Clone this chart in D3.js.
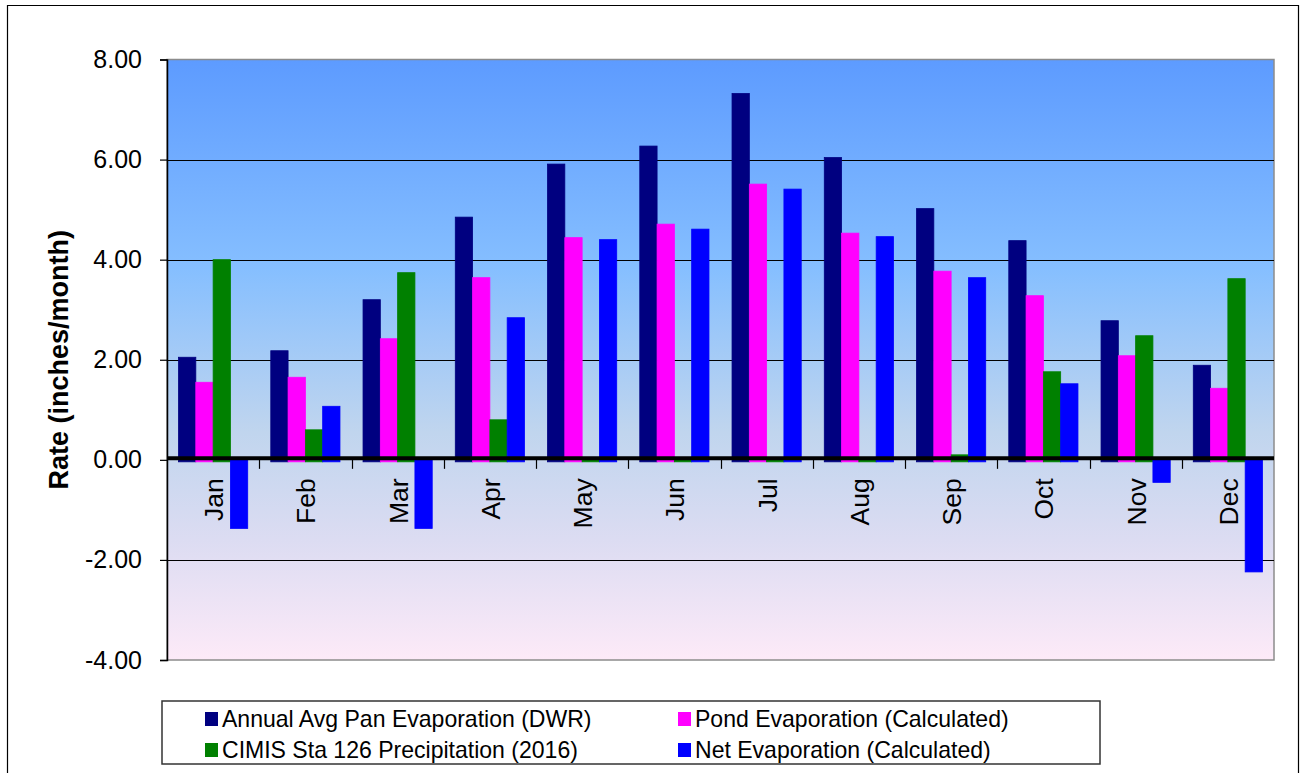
<!DOCTYPE html>
<html>
<head>
<meta charset="utf-8">
<script src="https://cdn.jsdelivr.net/npm/d3@7"></script>
<style>
  body { margin: 0; background: #fff; }
  svg { display: block; font-family: Arial, "Liberation Sans", sans-serif; }
</style>
</head>
<body>
<div id="chart"></div>
<script>
'use strict';

// Data
var months = ['Jan','Feb','Mar','Apr','May','Jun','Jul','Aug','Sep','Oct','Nov','Dec']
var panEvap  = [2.05, 2.18, 3.20, 4.85, 5.91, 6.27, 7.32, 6.04, 5.02, 4.38, 2.78, 1.89]
var pondEvap = [1.55, 1.65, 2.42, 3.64, 4.44, 4.71, 5.51, 4.53, 3.77, 3.28, 2.08, 1.43]
var precip   = [4.00, 0.60, 3.74, 0.80, 0.02, 0.01, 0.01, 0.01, 0.10, 1.76, 2.48, 3.62]
var netEvap  = [-1.33, 1.07, -1.33, 2.84, 4.40, 4.61, 5.41, 4.46, 3.64, 1.52, -0.41, -2.20]
var yTicks   = [-4, -2, 0, 2, 4, 6, 8]

var seriesNames = [
  'Annual Avg Pan Evaporation (DWR)',
  'Pond Evaporation (Calculated)',
  'CIMIS Sta 126 Precipitation (2016)',
  'Net Evaporation (Calculated)'
]
var seriesColors = ['#000080', '#ff00ff', '#008000', '#0000ff']
var seriesValues = [panEvap, pondEvap, precip, netEvap]

var W = 1302, H = 773
var plot = {left: 167, right: 1274, top: 59.5, bottom: 660}

var svg = d3.select('#chart').append('svg')
  .attr('width', W)
  .attr('height', H)

// outer frame (bottom edge runs off the picture)
svg.append('path')
  .attr('d', 'M7.5,' + (H + 2) + 'V5.5H1298.5V' + (H + 2))
  .attr('fill', 'none')
  .attr('stroke', '#000')
  .attr('stroke-width', 1.2)

var defs = svg.append('defs')
var grad = defs.append('linearGradient')
  .attr('id', 'bg')
  .attr('x1', 0).attr('y1', 0).attr('x2', 0).attr('y2', 1)
grad.append('stop').attr('offset', '0%').attr('stop-color', '#5d9bff')
grad.append('stop').attr('offset', '35%').attr('stop-color', '#86bfff')
grad.append('stop').attr('offset', '62%').attr('stop-color', '#c0d5ee')
grad.append('stop').attr('offset', '80%').attr('stop-color', '#dcdcf2')
grad.append('stop').attr('offset', '100%').attr('stop-color', '#fdeaf8')

var x = d3.scaleBand()
  .domain(months)
  .range([plot.left, plot.right])
  .paddingInner(0.25)
  .paddingOuter(0.125)

var xs = d3.scaleBand()
  .domain(d3.range(seriesNames.length))
  .range([0, x.bandwidth()])

var y = d3.scaleLinear()
  .domain([-4, 8])
  .range([plot.bottom, plot.top])

// plot background
svg.append('rect')
  .attr('x', plot.left)
  .attr('y', plot.top)
  .attr('width', plot.right - plot.left)
  .attr('height', plot.bottom - plot.top)
  .attr('fill', 'url(#bg)')
  .attr('stroke', '#8c8c8c')
  .attr('stroke-width', 1.5)

// gridlines
svg.append('g')
  .selectAll('line')
  .data(yTicks.filter(function(d){ return d !== 0 && d !== 8 && d !== -4 }))
  .enter().append('line')
    .attr('x1', plot.left)
    .attr('x2', plot.right)
    .attr('y1', function(d){ return Math.round(y(d)) + 0.5 })
    .attr('y2', function(d){ return Math.round(y(d)) + 0.5 })
    .attr('stroke', '#000')
    .attr('stroke-width', 1)

// bars
var groups = svg.append('g')
  .selectAll('g')
  .data(seriesValues)
  .enter().append('g')
    .attr('fill', function(d, i){ return seriesColors[i] })

groups.each(function(vals, si) {
  d3.select(this).selectAll('rect')
    .data(vals)
    .enter().append('rect')
      .attr('x', function(d, i){ return x(months[i]) + xs(si) })
      .attr('width', xs.bandwidth())
      .attr('y', function(d){ return y(Math.max(0, d)) })
      .attr('height', function(d){ return Math.abs(y(d) - y(0)) + 2 })
      .attr('stroke', seriesColors[si])
      .attr('stroke-width', 0.8)
})

// y axis
var fmt = d3.format('.2f')
var yAxis = d3.axisLeft(y)
  .tickValues(yTicks)
  .tickSize(7)
  .tickPadding(18)
  .tickFormat(function(d){ return fmt(d).replace('\u2212', '-') })

var gy = svg.append('g')
  .attr('transform', 'translate(' + plot.left + ',0)')
  .call(yAxis)
gy.select('.domain').attr('stroke', '#000').attr('stroke-width', 1.5)
gy.selectAll('.tick line').attr('stroke', '#000').attr('stroke-width', 1.2)
gy.selectAll('.tick text')
  .attr('fill', '#000')
  .style('font-size', '25px')
  .style('font-family', 'Arial, "Liberation Sans", sans-serif')

// zero line with category ticks
svg.append('line')
  .attr('x1', plot.left)
  .attr('x2', plot.right)
  .attr('y1', y(0) - 1.5)
  .attr('y2', y(0) - 1.5)
  .attr('stroke', '#000')
  .attr('stroke-width', 4)

svg.append('g')
  .selectAll('line')
  .data(months.slice(1))
  .enter().append('line')
    .attr('x1', function(d){ return Math.round(x(d) - x.step() * x.paddingInner() / 2) + 0.5 })
    .attr('x2', function(d){ return Math.round(x(d) - x.step() * x.paddingInner() / 2) + 0.5 })
    .attr('y1', y(0))
    .attr('y2', y(0) + 9)
    .attr('stroke', '#000')
    .attr('stroke-width', 1.2)

// month labels, rotated
svg.append('g')
  .selectAll('text')
  .data(months)
  .enter().append('text')
    .attr('transform', function(d){
      return 'translate(' + (x(d) + x.bandwidth() / 2 + 0.5) + ',' + (y(0) + 18.5) + ') rotate(-90)'
    })
    .attr('text-anchor', 'end')
    .attr('dy', '0.36em')
    .style('font-size', '26.5px')
    .text(function(d){ return d })

// y axis title
svg.append('text')
  .attr('transform', 'translate(59,' + ((plot.top + plot.bottom) / 2) + ') rotate(-90)')
  .attr('text-anchor', 'middle')
  .attr('dy', '0.35em')
  .style('font-size', '27px')
  .style('font-weight', 'bold')
  .text('Rate (inches/month)')

// legend
var legend = svg.append('g')
legend.append('rect')
  .attr('x', 162)
  .attr('y', 701)
  .attr('width', 938)
  .attr('height', 63)
  .attr('fill', '#fff')
  .attr('stroke', '#333')
  .attr('stroke-width', 1.5)

var legendCols = [205, 678]
var legendRows = [719, 750]
seriesNames.forEach(function(name, i) {
  var lx = legendCols[i % 2], ly = legendRows[Math.floor(i / 2)]
  var item = legend.append('g').attr('transform', 'translate(' + lx + ',' + ly + ')')
  item.append('rect')
    .attr('x', 0)
    .attr('y', -7)
    .attr('width', 13)
    .attr('height', 14)
    .attr('fill', seriesColors[i])
  item.append('text')
    .attr('x', 0)
    .attr('y', 0)
    .attr('dy', '0.35em')
    .attr('transform', 'translate(17,0) scale(0.96,1)')
    .style('font-size', '24px')
    .text(name)
})
</script>
</body>
</html>
